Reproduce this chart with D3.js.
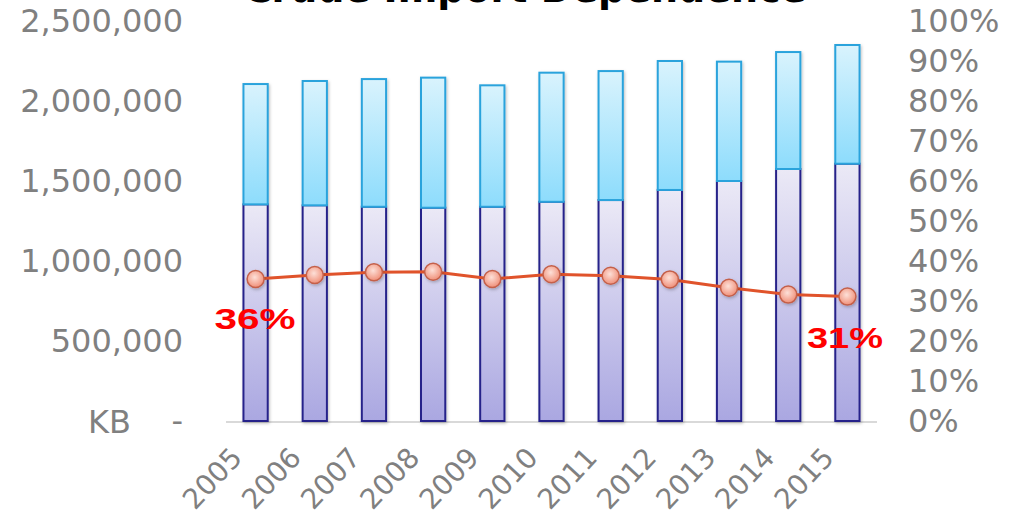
<!DOCTYPE html>
<html>
<head>
<meta charset="utf-8">
<script src="https://cdn.jsdelivr.net/npm/d3@7"></script>
<style>
  html, body { margin: 0; padding: 0; background: #ffffff; }
  svg { display: block; }
</style>
</head>
<body>
<script>
// ---- data ----
const years = ["2005","2006","2007","2008","2009","2010","2011","2012","2013","2014","2015"];
const domestic = [1354000, 1348000, 1339000, 1333000, 1339000, 1370000, 1381000, 1444000, 1500000, 1575000, 1608000];
const totals   = [2106000, 2125000, 2137000, 2146000, 2098000, 2177000, 2187000, 2250000, 2246000, 2306000, 2350000];
const dependence = [0.355, 0.365, 0.372, 0.373, 0.355, 0.367, 0.363, 0.354, 0.333, 0.316, 0.311];
const leftTicks = [0, 500000, 1000000, 1500000, 2000000, 2500000];
const rightTicks = [0, 0.1, 0.2, 0.3, 0.4, 0.5, 0.6, 0.7, 0.8, 0.9, 1.0];
const titleText = "Crude Import Dependence";
const unitLabel = "KB";
const firstLabel = "36%";
const lastLabel = "31%";

const W = 1014, H = 523;
const svg = d3.select("body").append("svg").attr("width", W).attr("height", H);
const defs = svg.append("defs");

const gUp = defs.append("linearGradient").attr("id", "gUp").attr("x1", 0).attr("y1", 0).attr("x2", 0).attr("y2", 1);
gUp.append("stop").attr("offset", "0%").attr("stop-color", "#d9f3fd");
gUp.append("stop").attr("offset", "100%").attr("stop-color", "#8ddcfc");
const gLow = defs.append("linearGradient").attr("id", "gLow").attr("x1", 0).attr("y1", 0).attr("x2", 0).attr("y2", 1);
gLow.append("stop").attr("offset", "0%").attr("stop-color", "#ebe9f6");
gLow.append("stop").attr("offset", "100%").attr("stop-color", "#aaa7e1");
const gDot = defs.append("radialGradient").attr("id", "gDot").attr("cx", "45%").attr("cy", "40%").attr("r", "60%");
gDot.append("stop").attr("offset", "0%").attr("stop-color", "#fde0d8");
gDot.append("stop").attr("offset", "100%").attr("stop-color", "#f08f78");
const shadow = defs.append("filter").attr("id", "sh").attr("x", "-50%").attr("y", "-20%").attr("width", "200%").attr("height", "140%");
shadow.append("feDropShadow").attr("dx", 1).attr("dy", 1.5).attr("stdDeviation", 1.5).attr("flood-color", "#000").attr("flood-opacity", 0.25);

// ---- scales ----
const x = d3.scaleBand().domain(years).range([226, 877]).paddingInner(0.59).paddingOuter(0.295);
const y = d3.scaleLinear().domain([0, 2500000]).range([421, 21]);
const y2 = d3.scaleLinear().domain([0, 1]).range([421, 21]);

const font = "'DejaVu Sans', sans-serif";
const grey = "#808080";

// title
svg.append("text").attr("x", 525).attr("y", 2).attr("text-anchor", "middle")
  .attr("font-family", font).attr("font-weight", "bold").attr("font-size", 38)
  .attr("fill", "#000").text(titleText);

// left axis
const fmt = d3.format(",");
const leftAxis = d3.axisLeft(y).tickValues(leftTicks).tickSize(0).tickPadding(0)
  .tickFormat(d => d === 0 ? "-" : fmt(d));
const gl = svg.append("g").attr("transform", "translate(183,0)").call(leftAxis);
gl.select(".domain").remove();
gl.selectAll("text").attr("font-family", font).attr("font-size", 32).attr("fill", grey);
svg.append("text").attr("x", 88).attr("y", y(0)).attr("dy", "0.36em")
  .attr("font-family", font).attr("font-size", 32).attr("fill", grey).text(unitLabel);

// right axis
const rightAxis = d3.axisRight(y2).tickValues(rightTicks).tickSize(0).tickPadding(0)
  .tickFormat(d3.format(".0%"));
const gr = svg.append("g").attr("transform", "translate(908,0)").call(rightAxis);
gr.select(".domain").remove();
gr.selectAll("text").attr("font-family", font).attr("font-size", 32).attr("fill", grey);

// baseline
svg.append("line").attr("x1", 226).attr("x2", 877).attr("y1", y(0) + 1).attr("y2", y(0) + 1)
  .attr("stroke", "#d9d9d9").attr("stroke-width", 2);

// bars
const bars = svg.append("g").attr("filter", "url(#sh)");
years.forEach((yr, i) => {
  const bx = x(yr), bw = x.bandwidth();
  bars.append("rect").attr("x", bx).attr("y", y(domestic[i])).attr("width", bw)
    .attr("height", y(0) - y(domestic[i])).attr("fill", "url(#gLow)")
    .attr("stroke", "#27248a").attr("stroke-width", 2);
  bars.append("rect").attr("x", bx).attr("y", y(totals[i])).attr("width", bw)
    .attr("height", y(domestic[i]) - y(totals[i])).attr("fill", "url(#gUp)")
    .attr("stroke", "#2aa3dc").attr("stroke-width", 2);
});

// line
const cx = d => x(d) + x.bandwidth() / 2;
const line = d3.line().x((d, i) => cx(years[i])).y(d => y2(d));
svg.append("path").datum(dependence).attr("d", line).attr("fill", "none")
  .attr("stroke", "#e0532b").attr("stroke-width", 3);
svg.append("g").attr("filter", "url(#sh)").selectAll("circle").data(dependence).join("circle")
  .attr("cx", (d, i) => cx(years[i])).attr("cy", d => y2(d)).attr("r", 8.5)
  .attr("fill", "url(#gDot)").attr("stroke", "#c4604a").attr("stroke-width", 1.5);

// annotations
svg.append("text").attr("x", 255).attr("y", 329).attr("text-anchor", "middle")
  .attr("font-family", "'Liberation Sans', Arial, sans-serif").attr("font-weight", "bold")
  .attr("font-size", 30).attr("fill", "#ff0000")
  .attr("textLength", 81).attr("lengthAdjust", "spacingAndGlyphs").text(firstLabel);
svg.append("text").attr("x", 845).attr("y", 348).attr("text-anchor", "middle")
  .attr("font-family", "'Liberation Sans', Arial, sans-serif").attr("font-weight", "bold")
  .attr("font-size", 30).attr("fill", "#ff0000")
  .attr("textLength", 76).attr("lengthAdjust", "spacingAndGlyphs").text(lastLabel);

// x labels
svg.append("g").selectAll("text").data(years).join("text")
  .attr("transform", d => `translate(${cx(d) - 12},${y(0) + 38}) rotate(-47)`)
  .attr("text-anchor", "end")
  .attr("font-family", font).attr("font-size", 28).attr("fill", grey).text(d => d);
</script>
</body>
</html>
